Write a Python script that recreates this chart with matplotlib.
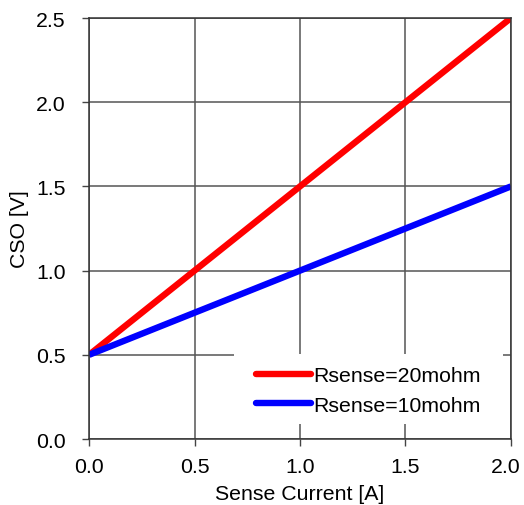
import numpy as np
import matplotlib.pyplot as plt
from matplotlib.patches import Rectangle
from matplotlib.transforms import ScaledTranslation

plt.rcParams['font.family'] = ['Liberation Sans', 'DejaVu Sans']

# Data
current = [0.0, 0.5, 1.0, 1.5, 2.0]
cso_20mohm = [0.5, 1.0, 1.5, 2.0, 2.5]
cso_10mohm = [0.5, 0.75, 1.0, 1.25, 1.5]
labels = ['Rsense=20mohm', 'Rsense=10mohm']

fs = 15.3

fig = plt.figure(figsize=(5.24, 5.06), dpi=100)
ax = fig.add_axes([0.170, 0.1304, 0.805, 0.832])

ax.plot(current, cso_20mohm, color='#ff0000', lw=4.6, solid_capstyle='butt', label=labels[0], zorder=3)
ax.plot(current, cso_10mohm, color='#0000ff', lw=4.6, solid_capstyle='butt', label=labels[1], zorder=3)

ax.set_xlim(0, 2.0)
ax.set_ylim(0, 2.5)
ax.set_xticks(np.arange(0, 2.01, 0.5))
ax.set_yticks(np.arange(0, 2.51, 0.5))
ax.xaxis.set_major_formatter(plt.FormatStrFormatter('%.1f'))
ax.yaxis.set_major_formatter(plt.FormatStrFormatter('%.1f'))
ax.grid(True, color='#555555', lw=1.1)
ax.set_axisbelow(True)
ax.tick_params(direction='out', length=5, width=1, color='#444444', labelsize=fs)
ax.tick_params(axis='y', pad=12)
ax.tick_params(axis='x', pad=8)
for s in ax.spines.values():
    s.set_color('#333333')
    s.set_linewidth(1.1)
    s.set_zorder(10)

# last x label sits against the right edge, nudge it in a bit
last = ax.get_xticklabels()[-1]
last.set_transform(last.get_transform() + ScaledTranslation(-4 / 72, 0, fig.dpi_scale_trans))

ax.set_xlabel('Sense Current [A]', fontsize=fs, labelpad=6)
ax.set_ylabel('CSO [V]', fontsize=fs, labelpad=5)

# white box behind the legend hides the grid lines there
ax.add_patch(Rectangle((0.344, 0.036), 0.637, 0.166, transform=ax.transAxes,
                       facecolor='white', edgecolor='none', zorder=4))

leg = ax.legend(loc='center', bbox_to_anchor=(0.662, 0.115), fontsize=fs,
                frameon=False, handlelength=2.6, handletextpad=0.1,
                labelspacing=0.5, borderpad=0.4, borderaxespad=0)
leg.set_zorder(5)
for h in leg.legend_handles:
    h.set_solid_capstyle('round')

fig.savefig('out.png', dpi=100)
